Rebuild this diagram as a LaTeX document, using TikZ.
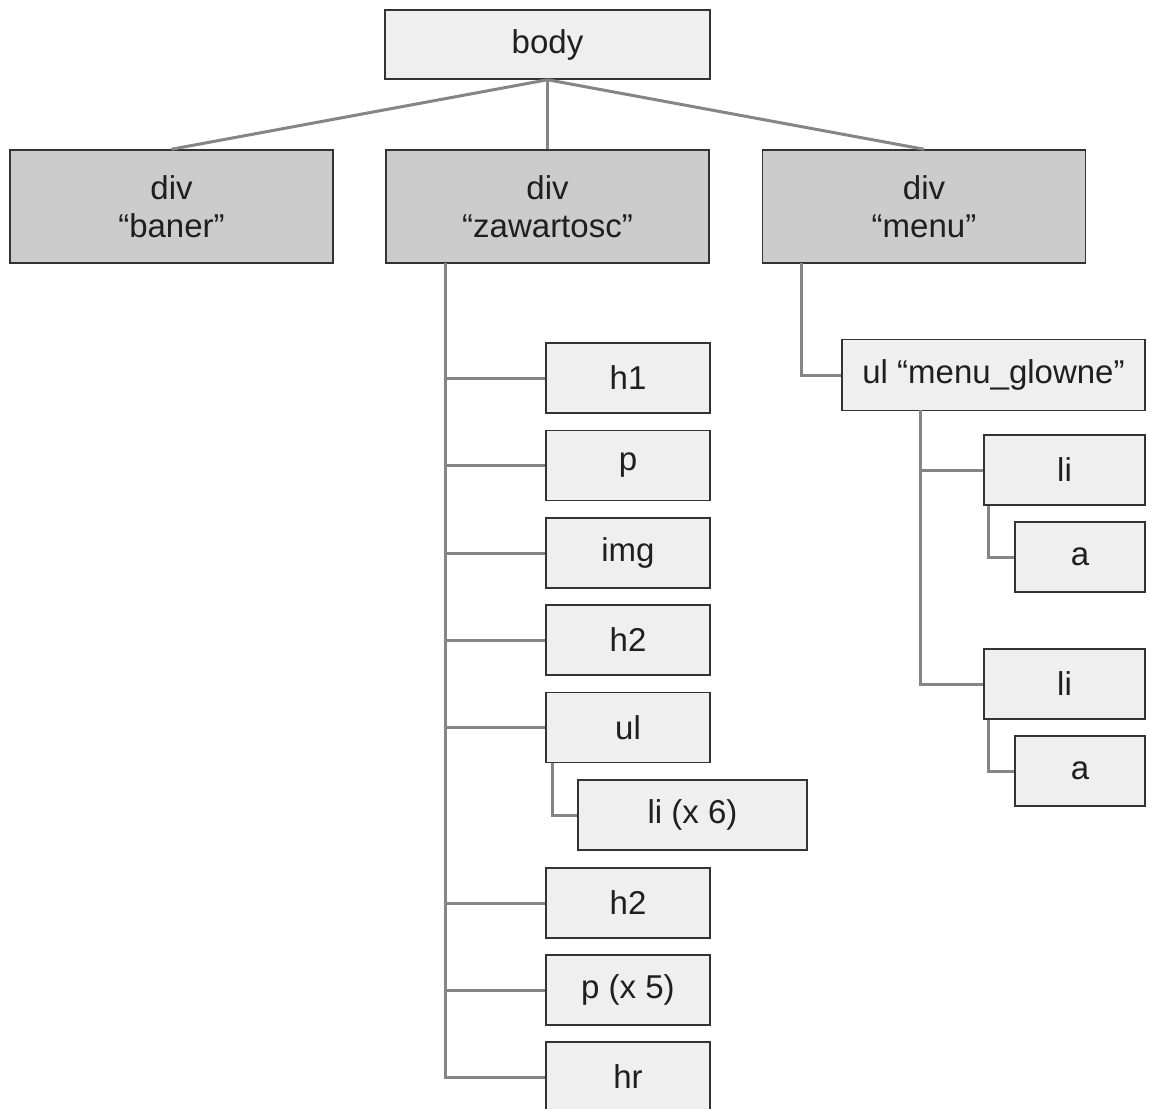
\documentclass[tikz,border=0pt]{standalone}
\usepackage{fontspec}
\setmainfont{Liberation Sans}
\usetikzlibrary{positioning}
\definecolor{boxfill}{HTML}{EFEFEF}
\definecolor{divfill}{HTML}{CCCCCC}
\definecolor{boxline}{HTML}{333333}
\definecolor{linkline}{HTML}{858585}
\begin{document}
\begin{tikzpicture}[x=0.5pt, y=-0.5pt,
    box/.style = {draw=boxline, line width=0.75pt, fill=boxfill, inner sep=0pt,
                  minimum width=82pt, minimum height=35pt, align=center,
                  text=black!88, font=\fontsize{16.5}{19}\selectfont},
    divbox/.style = {box, fill=divfill, minimum width=161.5pt, minimum height=56.5pt},
    link/.style = {draw=linkline, line width=1.5pt}]
    \useasboundingbox (0,0) rectangle (1150,1108);
    % top level
    \node[box, minimum width=162.5pt, minimum height=34.5pt] (body) at (547.5,44.5) {body};
    \node[divbox] (baner) at (171.5,206.5) {div\\“baner”};
    \node[divbox] (zaw) at (547.5,206.5) {div\\“zawartosc”};
    \node[divbox] (menu) at (924,206.5) {div\\“menu”};
    \draw[link] (body.south) -- (baner.north);
    \draw[link] (body.south) -- (zaw.north);
    \draw[link] (body.south) -- (menu.north);
    % zawartosc
    \node[box] (h1) at (628,378) {h1};
    \node[box] (p) at (628,465.5) {p};
    \node[box] (img) at (628,553) {img};
    \node[box] (h2a) at (628,640) {h2};
    \node[box] (ul) at (628,727.5) {ul};
    \node[box, minimum width=114.5pt] (li6) at (692.5,815) {li (x 6)};
    \node[box] (h2b) at (628,903) {h2};
    \node[box] (p5) at (628,990) {p (x 5)};
    \node[box] (hr) at (628,1077) {hr};
    \coordinate (zawtrunk) at (445,263);
    \draw[link] (zawtrunk) |- (hr.west);
    \foreach \n in {h1,p,img,h2a,ul,h2b,p5}
        \draw[link] (\n.west) -- (\n.west -| zawtrunk);
    \draw[link] ([xshift=3.5pt]ul.south west) |- (li6.west);
    % menu
    \node[box, minimum width=151.5pt, minimum height=35.5pt] (ulm) at (993.5,375) {ul “menu\_glowne”};
    \node[box, minimum width=80.5pt] (li1) at (1064.5,470) {li};
    \node[box, minimum width=65pt] (a1) at (1080,557) {a};
    \node[box, minimum width=80.5pt] (li2) at (1064.5,684) {li};
    \node[box, minimum width=65pt] (a2) at (1080,771) {a};
    \coordinate (menutrunk) at (801,263);
    \draw[link] (menutrunk) |- (ulm.west);
    \coordinate (ulmtrunk) at (920,410);
    \draw[link] (ulmtrunk) |- (li2.west);
    \draw[link] (li1.west) -- (li1.west -| ulmtrunk);
    \draw[link] ([xshift=2.5pt]li1.south west) |- (a1.west);
    \draw[link] ([xshift=2.5pt]li2.south west) |- (a2.west);
\end{tikzpicture}
\end{document}
